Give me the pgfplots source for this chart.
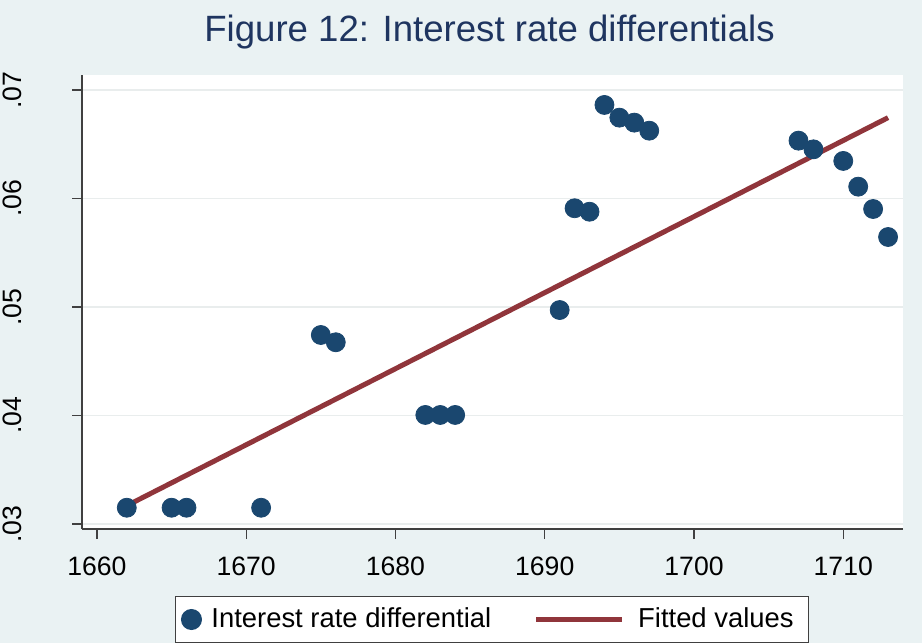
\documentclass[border=0pt]{standalone}
\usepackage{pgfplots}
\pgfplotsset{compat=1.18}
\usepackage{fontspec}
\setmainfont{Liberation Sans}
\definecolor{bgc}{HTML}{EAF2F3}
\definecolor{navy}{HTML}{1A476F}
\definecolor{maroon}{HTML}{90353B}
\definecolor{titlec}{HTML}{1F3560}
\definecolor{axc}{HTML}{404040}
\begin{document}
\begin{tikzpicture}
\fill[bgc] (0,0) rectangle (461pt,321.5pt);
\begin{axis}[
  at={(41pt,57pt)}, anchor=south west,
  scale only axis, width=410.5pt, height=227pt,
  xmin=1659, xmax=1714, ymin=0.02954, ymax=0.07138,
  scaled y ticks=false,
  axis background/.style={fill=white},
  axis x line*=bottom, axis y line*=left,
  axis line style={axc, line width=0.6pt, -},
  tick align=outside, major tick length=5pt,
  tick style={axc, line width=0.6pt},
  xtick={1660,1670,1680,1690,1700,1710},
  xticklabels={1660,1670,1680,1690,1700,1710},
  ytick={0.03,0.04,0.05,0.06,0.07},
  yticklabels={.03,.04,.05,.06,.07},
  ymajorgrids, major grid style={bgc!85!gray!60!white, line width=0.8pt},
  xticklabel style={font=\fontsize{13.3}{16}\selectfont, anchor=north, inner sep=0pt, yshift=-9pt},
  yticklabel style={font=\fontsize{13.3}{16}\selectfont, xshift=-25pt, rotate=90, anchor=south, inner sep=0pt},
  title={Figure 12: Interest rate differentials},
  title style={at={(0.5,1)}, anchor=base, yshift=10.8pt, xshift=-1.5pt, inner sep=0pt, font=\fontsize{18.3}{22}\selectfont, text=titlec},
  legend columns=2,
  legend style={at={(0.4994,-0.1476)}, anchor=north, draw=axc, line width=0.5pt, fill=white,
    inner xsep=0pt, inner ysep=0pt, column sep=0pt, nodes={inner sep=0pt},
    font=\fontsize{13.7}{16}\selectfont},
  clip=false,
]
\addplot[only marks, mark=*, mark size=4.75pt, mark options={fill=navy, draw=navy},
  legend image code/.code={\path[draw=none, fill=none] (-8pt,-11.5pt) rectangle (10pt,11.5pt); \fill[navy] (0,0) circle (5pt);}]
  coordinates {
  (1662,0.0315) (1665,0.0315) (1666,0.0315) (1671,0.0315)
  (1675,0.04742) (1676,0.04675)
  (1682,0.04005) (1683,0.04005) (1684,0.04005)
  (1691,0.04972) (1692,0.0591) (1693,0.05878)
  (1694,0.06862) (1695,0.06745) (1696,0.06699) (1697,0.06625)
  (1707,0.06533) (1708,0.06453) (1710,0.06346) (1711,0.06109)
  (1712,0.05903) (1713,0.05645)
  };
\addlegendentry{Interest rate differential}
\addplot[maroon, line width=2.5pt, no marks,
  legend image code/.code={\path[draw=none, fill=none] (-22.5pt,-11.5pt) rectangle (51pt,11.5pt); \draw[maroon, line width=2.5pt] (0,0) -- (43pt,0);}]
  coordinates {(1662,0.03169) (1713,0.06745)};
\addlegendentry{Fitted values\hspace*{7.5pt}}
\end{axis}
\pgfresetboundingbox
\useasboundingbox (0,0) rectangle (461pt,321.5pt);
\end{tikzpicture}
\end{document}
